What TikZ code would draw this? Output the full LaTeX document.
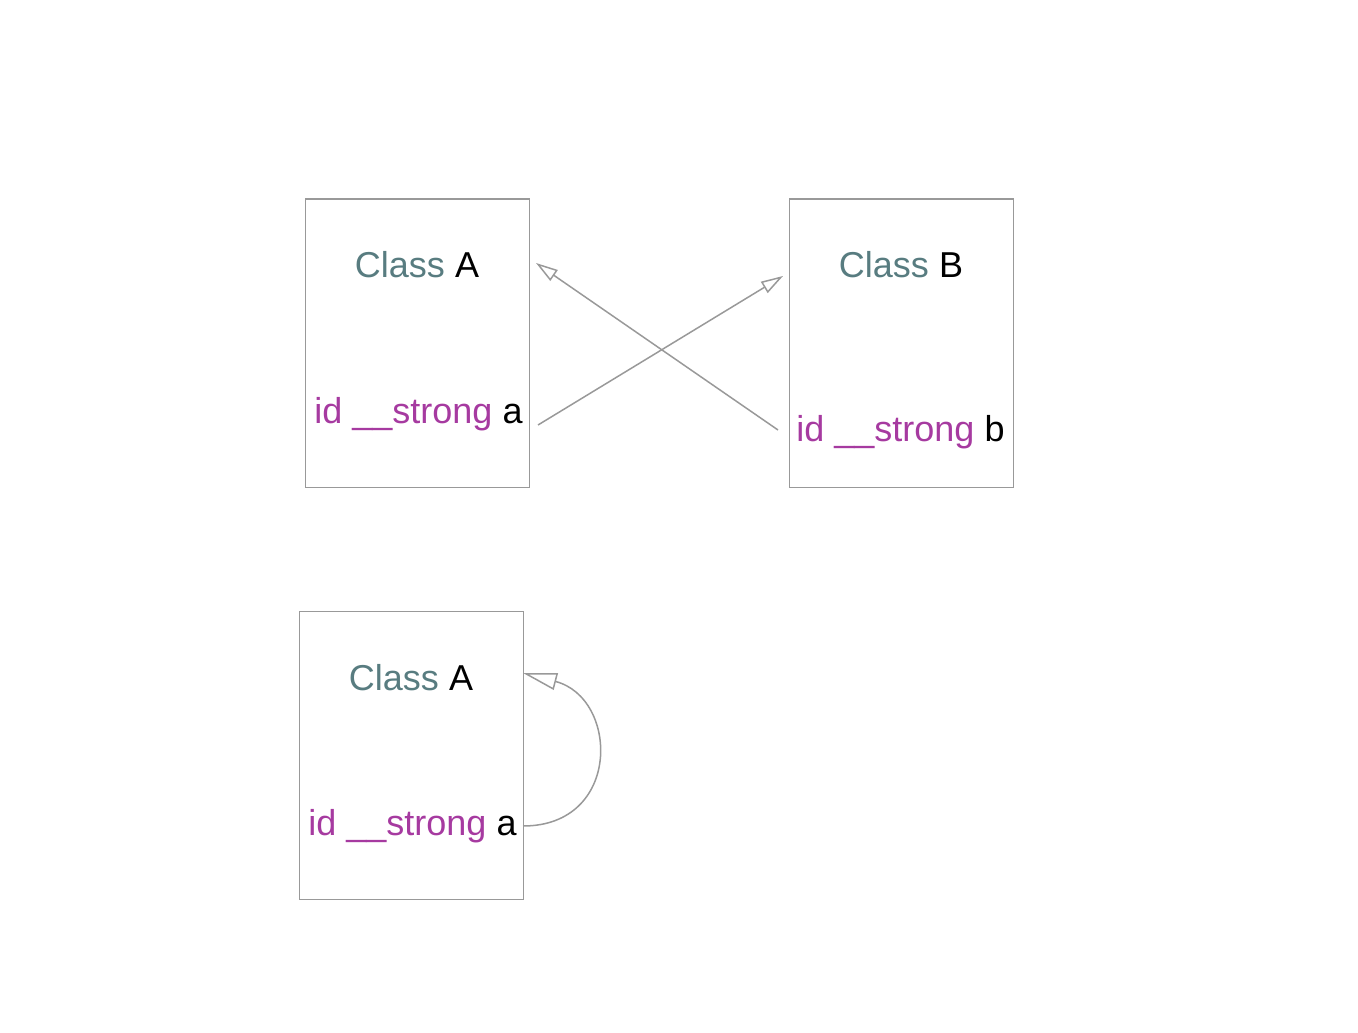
\documentclass[tikz,border=0pt]{standalone}
\usepackage{fontspec}
\setmainfont{Liberation Sans}
\usetikzlibrary{arrows.meta}
\definecolor{linegray}{RGB}{153,153,153}
\definecolor{clsteal}{RGB}{88,124,128}
\definecolor{kwpurple}{RGB}{166,58,160}
\begin{document}
\begin{tikzpicture}[x=0.5pt,y=-0.5pt,
  classbox/.style={draw=linegray,line width=0.8pt,minimum width=112pt,minimum height=144pt,inner sep=0pt,anchor=north west},
  txt/.style={inner sep=0pt,font=\fontsize{18pt}{21pt}\selectfont},
  conn/.style={draw=linegray,line width=0.75pt,-{Triangle[open,length=11pt,width=6.5pt]}},
  loopconn/.style={draw=linegray,line width=0.75pt,-{Triangle[open,length=17pt,width=8.5pt]}}]
\useasboundingbox (0,0) rectangle (1358,1032);
% boxes
\node[classbox] (boxa) at (304.5,198.5) {};
\node[classbox] (boxb) at (788.5,198.5) {};
\node[classbox] (boxc) at (298.5,610.5) {};
% texts
\node[txt,anchor=base] (clsa) at (417,278) {\textcolor{clsteal}{Class} A};
\node[txt,anchor=base west] (ida) at (314,423) {\textcolor{kwpurple}{id \_\_strong} a};
\node[txt,anchor=base] (clsb) at (901,278) {\textcolor{clsteal}{Class} B};
\node[txt,anchor=base west] (idb) at (796,441) {\textcolor{kwpurple}{id \_\_strong} b};
\node[txt,anchor=base] (clsc) at (411,690) {\textcolor{clsteal}{Class} A};
\node[txt,anchor=base west] (idc) at (308,835) {\textcolor{kwpurple}{id \_\_strong} a};
% connector end points
\coordinate (pa) at (538,425);
\coordinate (pb) at (783,276);
\coordinate (qb) at (778,430);
\coordinate (qa) at (536,263);
\coordinate (rc) at (523,826);
\coordinate (sc) at (523,673);
% connectors
\draw[conn] (pa) -- (pb);
\draw[conn] (qb) -- (qa);
\draw[loopconn] (rc) .. controls (622,826) and (619,698) .. (sc);
\end{tikzpicture}
\end{document}
